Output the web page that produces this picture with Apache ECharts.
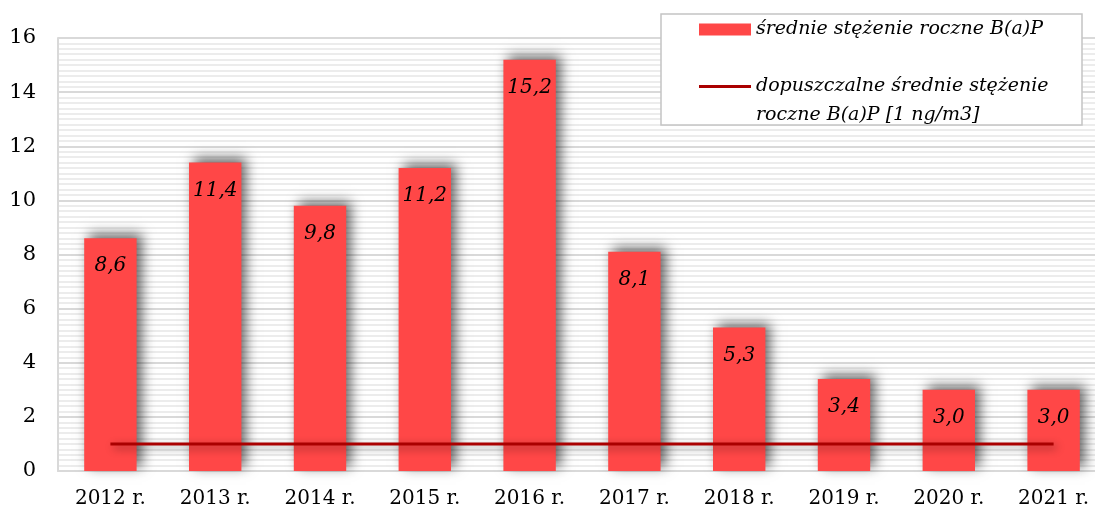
<!DOCTYPE html>
<html>
<head>
<meta charset="utf-8">
<script src="https://cdn.jsdelivr.net/npm/echarts@6/dist/echarts.min.js"></script>
<style>
  html, body { margin: 0; padding: 0; background: #fff; }
  #chart { width: 1095px; height: 511px; }
</style>
</head>
<body>
<div id="chart"></div>
<script>
// dane
const years = ['2012 r.', '2013 r.', '2014 r.', '2015 r.', '2016 r.', '2017 r.', '2018 r.', '2019 r.', '2020 r.', '2021 r.'];
const bapValues = [8.6, 11.4, 9.8, 11.2, 15.2, 8.1, 5.3, 3.4, 3.0, 3.0];
const limitValues = [1, 1, 1, 1, 1, 1, 1, 1, 1, 1];
const yTicks = [0, 2, 4, 6, 8, 10, 12, 14, 16];

const barName = 'średnie stężenie roczne B(a)P';
const lineName = 'dopuszczalne średnie stężenie roczne B(a)P [1 ng/m3]';
const serif = '"DejaVu Serif", "Liberation Serif", serif';

let myChart = echarts.init(document.getElementById('chart'));
let option = {
    animation: false,
    textStyle: { fontFamily: serif },
    grid: { left: 58, right: -11, top: 38, bottom: 40, outerBoundsMode: 'none' },
    // ramka legendy
    graphic: [{
        type: 'rect',
        shape: { x: 661, y: 14, width: 421, height: 111 },
        style: { fill: '#fff', stroke: '#c4c4c4', lineWidth: 1.5 },
        z: 10
    }],
    legend: {
        orient: 'vertical',
        left: 699,
        top: 15,
        padding: 0,
        itemGap: -1,
        itemWidth: 52,
        itemHeight: 12,
        z: 20,
        textStyle: { fontFamily: serif, fontStyle: 'italic', fontSize: 19, color: '#000', lineHeight: 29 },
        data: [
            { name: barName, icon: 'rect' },
            { name: lineName, icon: 'path://M0,0 L100,0 L100,6 L0,6 Z',
              itemStyle: { color: '#aa0000' } }
        ],
        formatter: function (name) {
            return name === lineName ? '\ndopuszczalne średnie stężenie\nroczne B(a)P [1 ng/m3]' : name;
        }
    },
    xAxis: {
        type: 'category',
        data: years,
        axisLine: { lineStyle: { color: '#d9d9d9', width: 2 } },
        axisTick: { show: false },
        axisLabel: { color: '#000', fontSize: 20, fontFamily: serif, margin: 18 }
    },
    yAxis: {
        type: 'value',
        min: yTicks[0],
        max: yTicks[yTicks.length - 1],
        interval: 2,
        axisLine: { show: true, lineStyle: { color: '#d9d9d9', width: 2 } },
        axisTick: { show: false },
        axisLabel: { color: '#000', fontSize: 21, fontFamily: serif, margin: 22 },
        splitLine: { lineStyle: { color: '#d9d9d9', width: 2 } },
        minorTick: { show: false, splitNumber: 10 },
        minorSplitLine: { show: true, lineStyle: { color: '#ececec', width: 2 } }
    },
    series: [
        {
            name: barName,
            type: 'bar',
            data: bapValues,
            barWidth: '50%',
            itemStyle: {
                color: '#ff4747',
                shadowColor: 'rgba(0,0,0,0.6)',
                shadowBlur: 12,
                shadowOffsetX: 5,
                shadowOffsetY: -4
            },
            label: {
                show: true,
                position: 'insideTop',
                distance: 18,
                color: '#000',
                fontSize: 20,
                fontStyle: 'italic',
                fontFamily: serif,
                formatter: function (p) { return p.value.toFixed(1).replace('.', ','); }
            },
            z: 2
        },
        {
            name: lineName,
            type: 'line',
            data: limitValues,
            symbol: 'none',
            color: '#aa0000',
            lineStyle: {
                color: '#aa0000',
                width: 3,
                shadowColor: 'rgba(0,0,0,0.45)',
                shadowBlur: 9,
                shadowOffsetX: 3,
                shadowOffsetY: 3
            },
            z: 3
        }
    ]
};
myChart.setOption(option);
</script>
</body>
</html>
